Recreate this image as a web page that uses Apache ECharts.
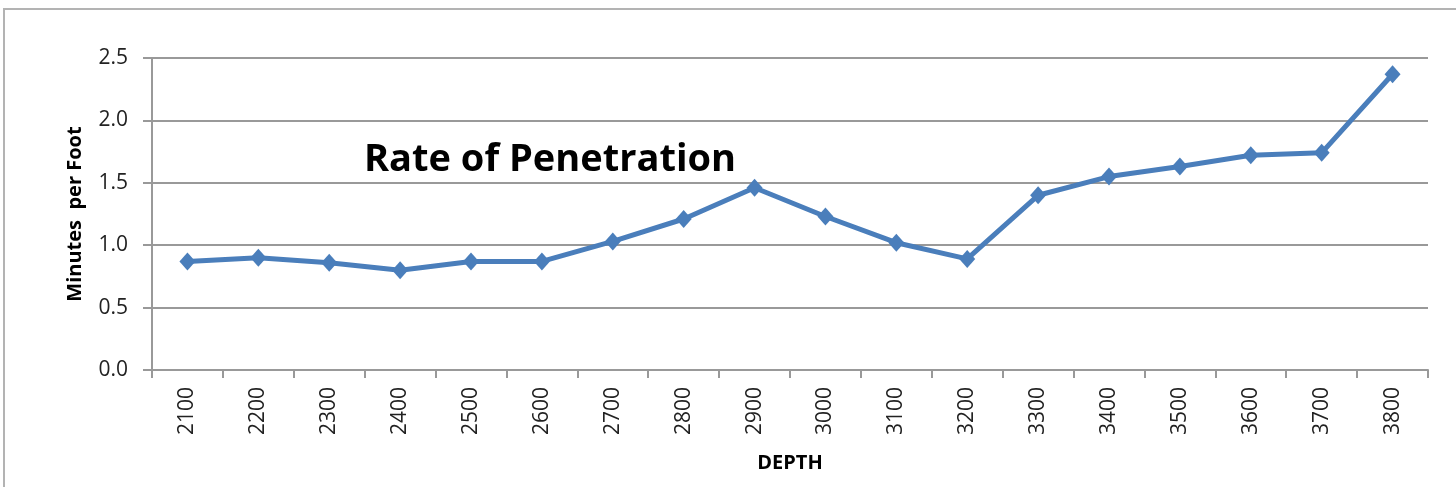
<!DOCTYPE html>
<html>
<head>
<meta charset="utf-8">
<script src="https://cdn.jsdelivr.net/npm/echarts@6/dist/echarts.min.js"></script>
<style>
html,body{margin:0;padding:0;background:#fff;}
#chart{width:1456px;height:487px;}
</style>
</head>
<body>
<div id="chart"></div>
<script>
const depths = ['2100','2200','2300','2400','2500','2600','2700','2800','2900','3000','3100','3200','3300','3400','3500','3600','3700','3800'];
const minutesPerFoot = [0.87,0.90,0.86,0.80,0.87,0.87,1.03,1.21,1.46,1.23,1.02,0.89,1.40,1.55,1.63,1.72,1.74,2.37];
const titleText = 'Rate of Penetration';
const yAxisName = 'Minutes  per Foot';
const xAxisName = 'DEPTH';

const chart = echarts.init(document.getElementById('chart'));
const font = '"Open Sans", Lato, sans-serif';
chart.setOption({
  animation: false,
  backgroundColor: '#fff',
  graphic: [{
    type: 'rect',
    shape: {x: 4, y: 9, width: 1600, height: 700},
    style: {fill: 'none', stroke: '#b3b3b3', lineWidth: 2},
    silent: true
  }],
  title: {
    text: titleText,
    left: 364,
    top: 141,
    padding: 0,
    textStyle: {fontFamily: font, fontSize: 38, fontWeight: 'bold', color: '#000'}
  },
  grid: {left: 152, right: 28, top: 58, bottom: 117, containLabel: false},
  xAxis: {
    type: 'category',
    data: depths,
    boundaryGap: true,
    name: xAxisName,
    nameLocation: 'middle',
    nameGap: 93,
    nameTextStyle: {fontFamily: font, fontSize: 20, fontWeight: 'bold', color: '#000', verticalAlign: 'middle'},
    axisLine: {show: true, lineStyle: {color: '#999', width: 2}},
    axisTick: {show: true, length: 8, alignWithLabel: false, lineStyle: {color: '#999', width: 2}},
    axisLabel: {rotate: 90, margin: 17, fontFamily: font, fontSize: 21, color: '#222', interval: 0}
  },
  yAxis: {
    type: 'value',
    min: 0,
    max: 2.5,
    interval: 0.5,
    name: yAxisName,
    nameLocation: 'middle',
    nameGap: 77,
    nameRotate: 90,
    nameTextStyle: {fontFamily: font, fontSize: 20, fontWeight: 'bold', color: '#000', verticalAlign: 'middle'},
    axisLine: {show: true, lineStyle: {color: '#999', width: 2}},
    axisTick: {show: true, length: 9, lineStyle: {color: '#999', width: 2}},
    axisLabel: {margin: 24, fontFamily: font, fontSize: 21, color: '#222', formatter: v => v.toFixed(1)},
    splitLine: {show: true, lineStyle: {color: '#999', width: 2}}
  },
  series: [{
    type: 'line',
    data: minutesPerFoot,
    symbol: 'diamond',
    symbolSize: [16, 18],
    showAllSymbol: true,
    lineStyle: {color: '#4a7ebb', width: 5},
    itemStyle: {color: '#4a7ebb'}
  }]
});
</script>
</body>
</html>
